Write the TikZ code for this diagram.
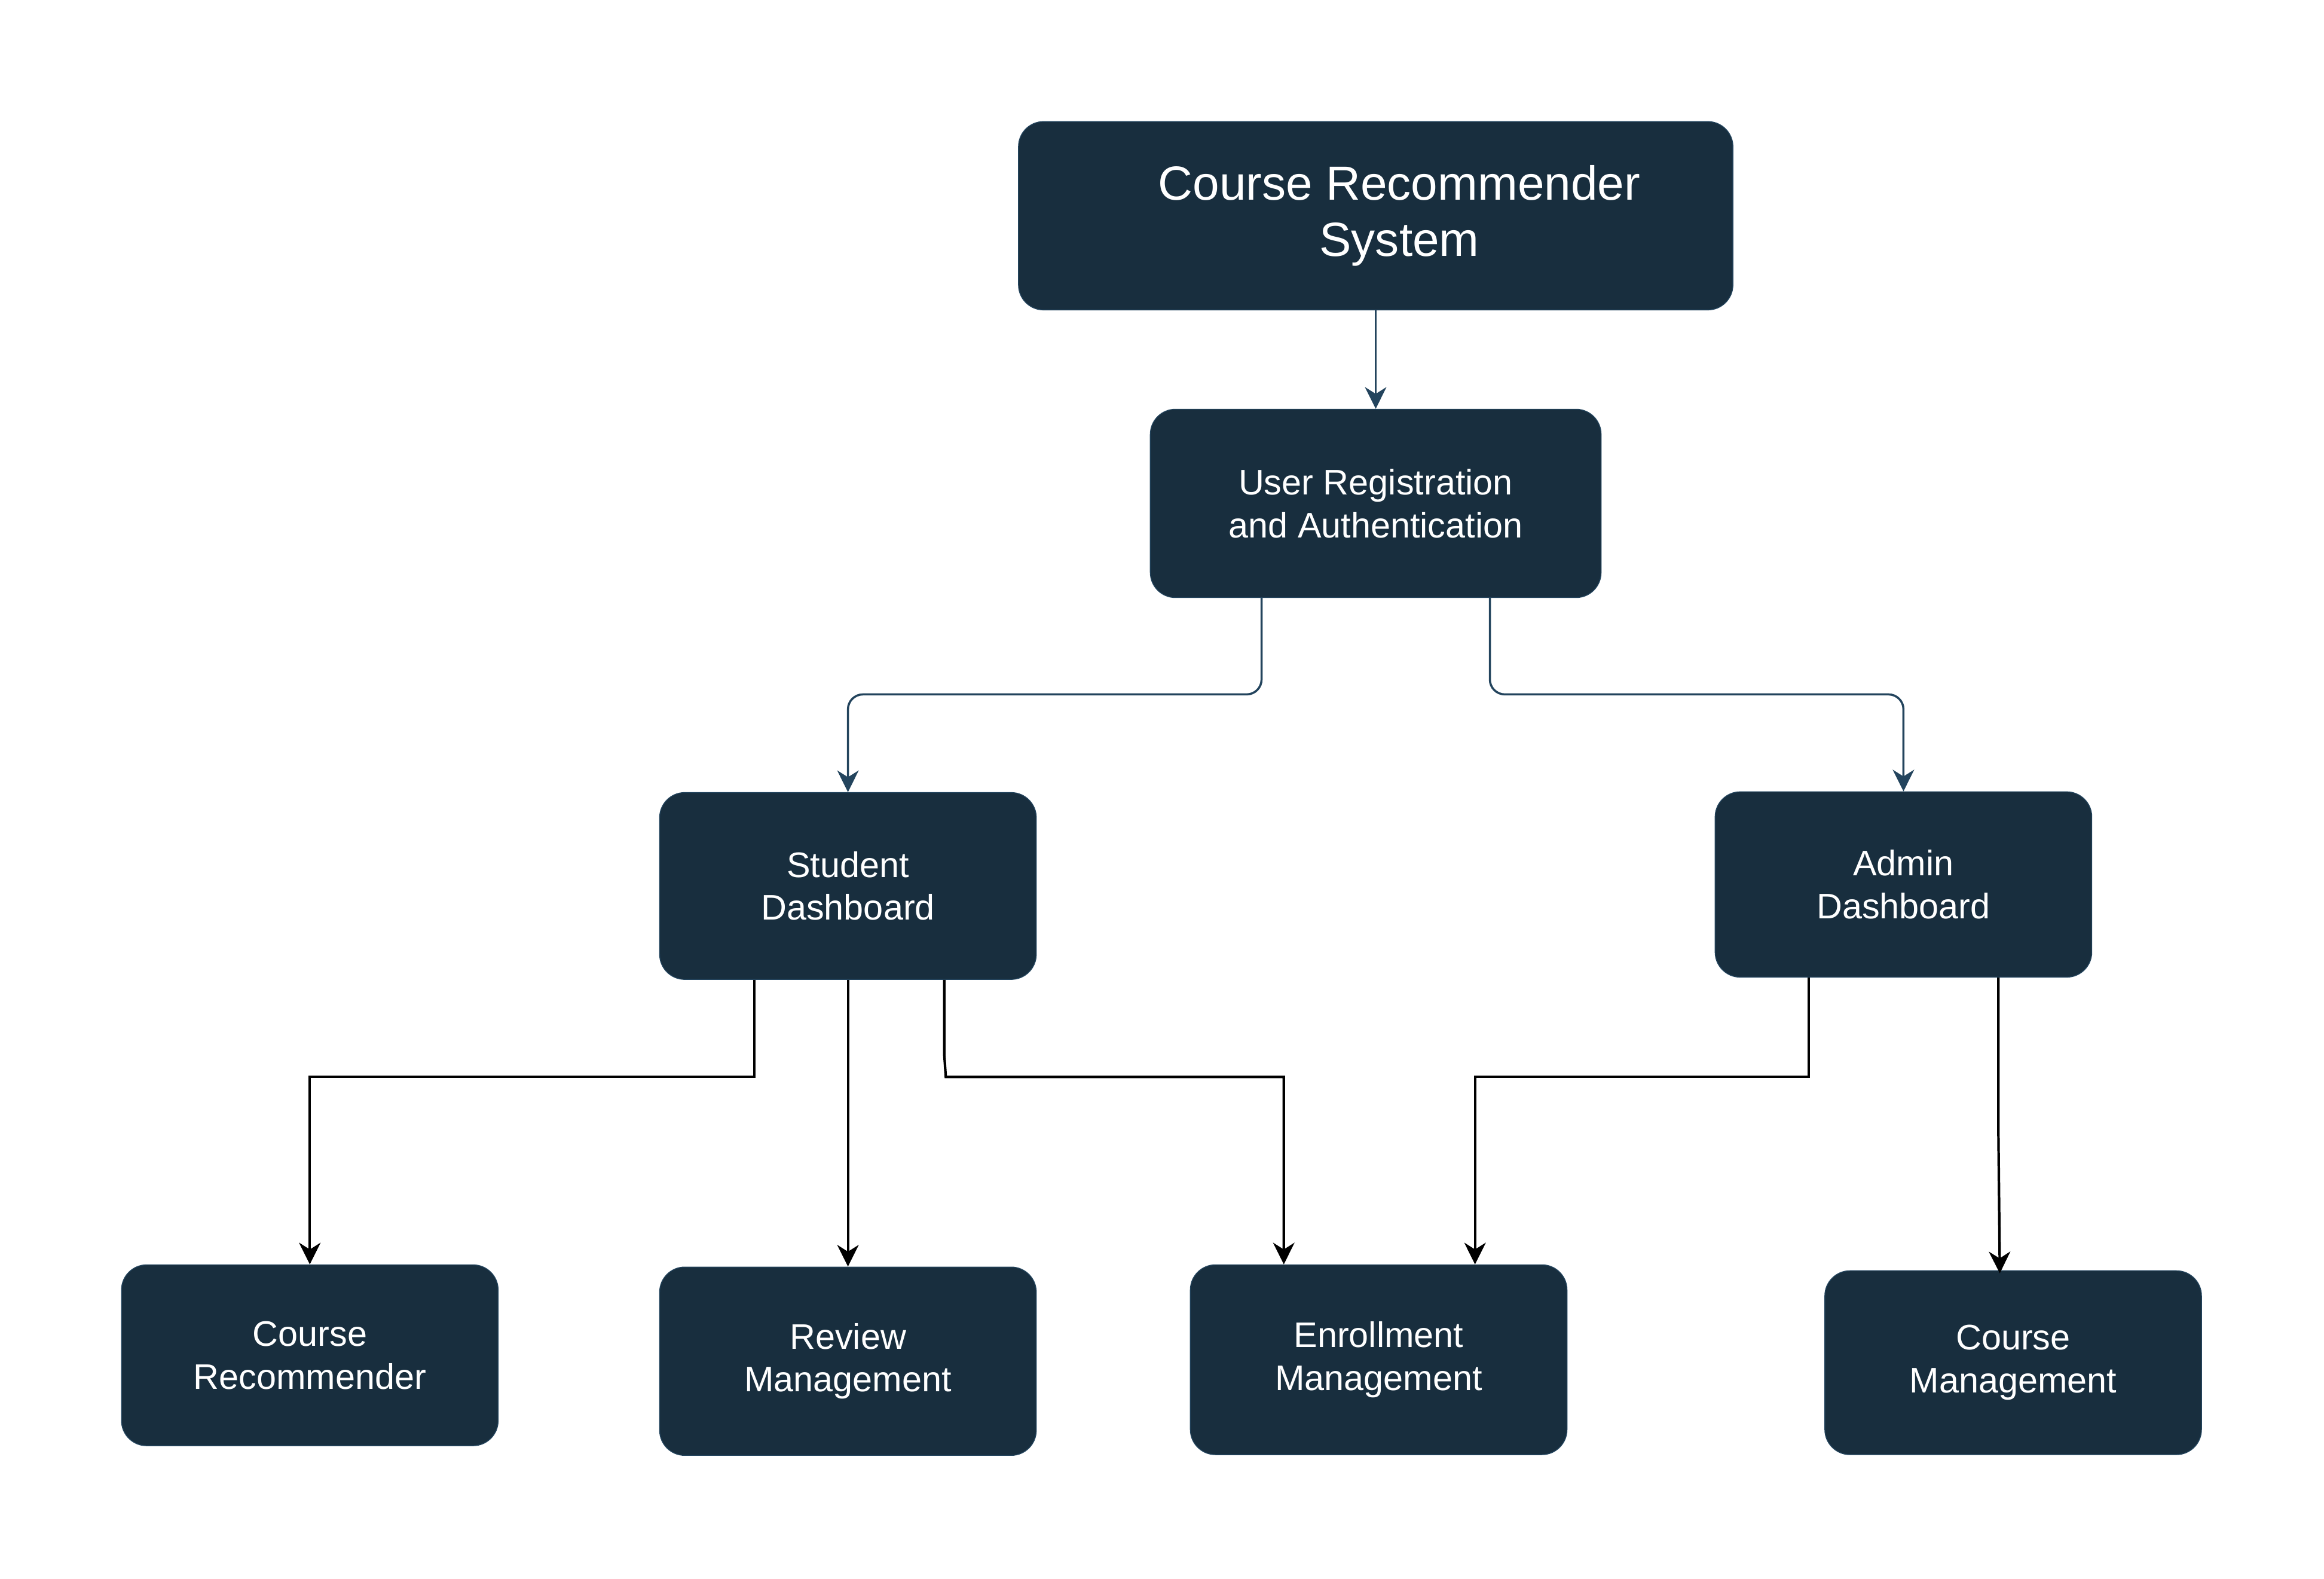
\documentclass[tikz,border=0pt]{standalone}
\usepackage{fontspec}
\setmainfont{Liberation Sans}
\usetikzlibrary{calc,arrows.meta}
\definecolor{boxfill}{HTML}{182E3E}
\definecolor{edgeblue}{HTML}{23445D}
\tikzset{
	box/.style={draw=edgeblue, fill=boxfill, text=white, rounded corners=0.42cm, align=center, inner sep=0pt, minimum width=6.3cm, minimum height=3.15cm, font=\fontsize{16.9}{20.4}\selectfont},
	navyline/.style={line width=1pt, draw=edgeblue, rounded corners=0.25cm, -{Stealth[length=10.3pt,width=10.2pt,inset=3.2pt]}},
	blackline/.style={line width=1.2pt, draw=black, -{Stealth[length=10.3pt,width=10.2pt,inset=3.2pt]}}
}

\begin{document}
\begin{tikzpicture}[x=0.0248cm, y=-0.0248cm]
		%%%%% START %%%%%
		
		\fill[white] (0, 0) rectangle (1567.7, 1064.5);
		\useasboundingbox (0, 0) rectangle (1567.7, 1064.5);
		
		\node[box, minimum width=11.95cm, font=\fontsize{22.8}{26.8}\selectfont] (crs) at (928, 145.5) {\hspace*{0.79cm}Course Recommender\\\hspace*{0.79cm}System};
		\node[box, minimum width=7.54cm] (auth) at (928, 339.5) {User Registration\\and Authentication};
		
		\node[box, minimum height=3.125cm] (student) at (572, 597.5) {Student\\Dashboard};
		\node[box, minimum height=3.1cm] (admin) at (1284, 596.5) {Admin\\Dashboard};
		
		\node[box, minimum height=3.025cm] (recom) at (209, 914) {Course\\Recommender};
		\node[box] (review) at (572, 918) {Review\\Management};
		\node[box, minimum height=3.175cm] (enroll) at (930, 917) {Enrollment\\Management};
		\node[box, minimum height=3.075cm] (cmgmt) at (1358, 919) {Course\\Management};
		
		\draw[navyline] (crs.south) -- (auth.north);
		\draw[navyline] ($(auth.south)+(-77, 0)$) -- ++(0, 65) -| (student.north);
		\draw[navyline] ($(auth.south)+(77, 0)$) -- ++(0, 65) -| (admin.north);
		
		\draw[blackline] ($(student.south)+(-63, 0)$) -- ++(0, 65.5) -| (recom.north);
		\draw[blackline] (student.south) -- (review.north);
		\draw[blackline] ($(student.south)+(65, 0)$) -- ++(0, 51) -- ++(1, 14.5) -| ($(enroll.north)+(-64, 0)$);
		
		\draw[blackline] ($(admin.south)+(-64, 0)$) -- ++(0, 67) -| ($(enroll.north)+(65, 0)$);
		\draw[blackline] ($(admin.south)+(64, 0)$) -- ++(0, 100) -- ($(cmgmt.north)+(-9, 2)$);
		
		%%%%% END %%%%%
	\end{tikzpicture}
\end{document}
